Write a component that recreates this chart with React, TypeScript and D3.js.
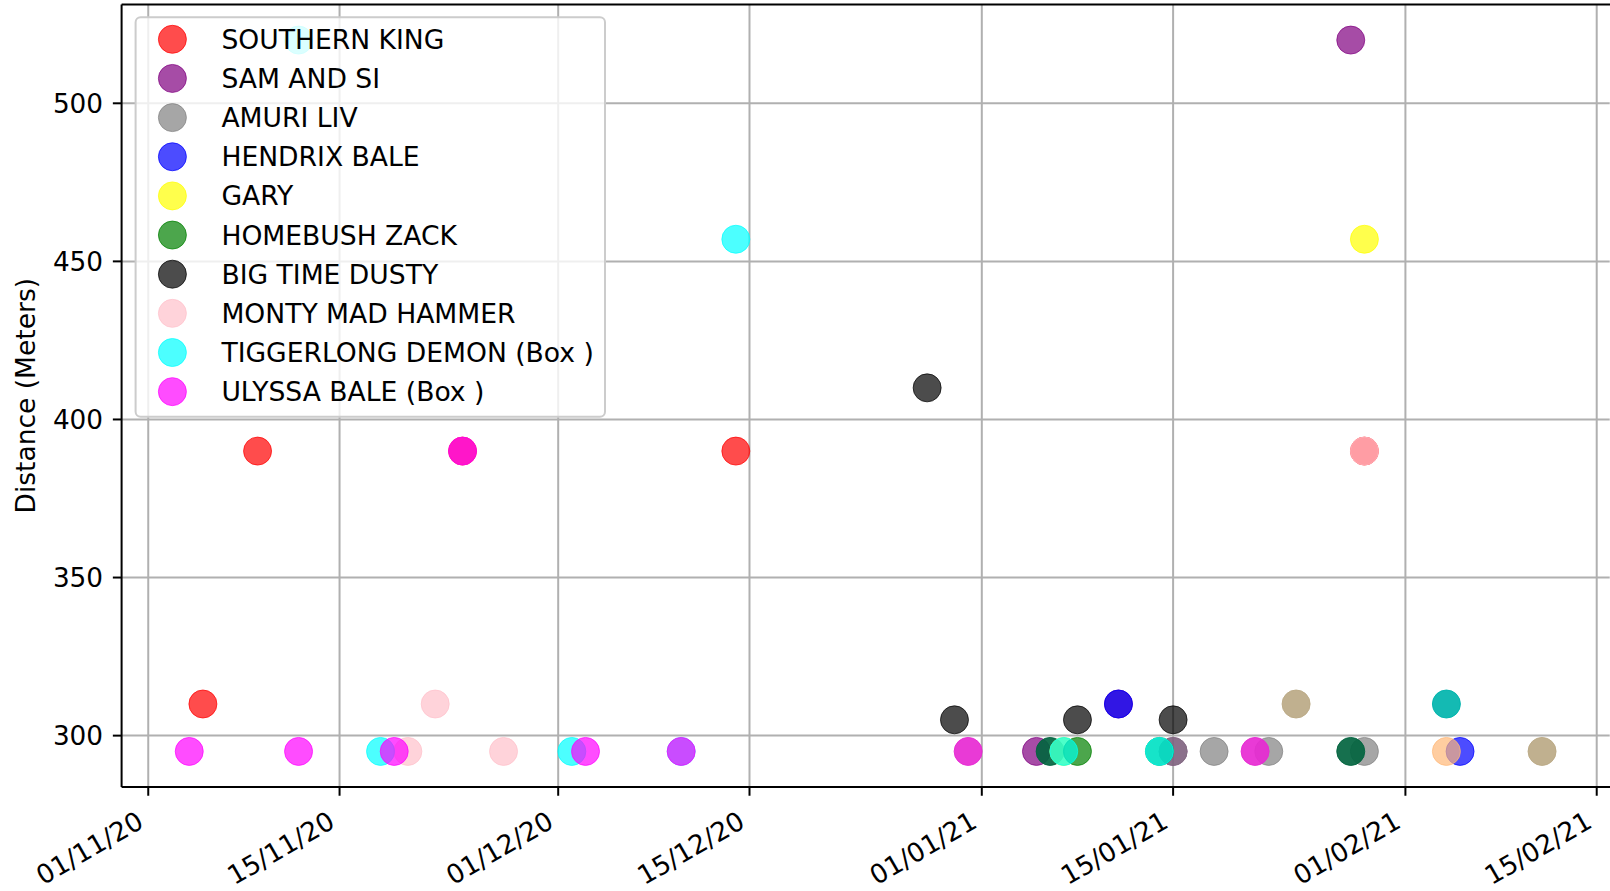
import React from "react";
import * as d3 from "d3";

// ---------- data ----------
const seriesNames = [
  "SOUTHERN KING",
  "SAM AND SI",
  "AMURI LIV",
  "(unlisted A)",
  "(unlisted B)",
  "HENDRIX BALE",
  "(unlisted C)",
  "GARY",
  "HOMEBUSH ZACK",
  "BIG TIME DUSTY",
  "MONTY MAD HAMMER",
  "TIGGERLONG DEMON (Box )",
  "ULYSSA BALE (Box )",
  "(unlisted D)",
  "(unlisted E)",
];
const seriesColors = [
  "#ff0000", "#800080", "#808080", "#02643f", "#e729d2", "#0000ff", "#ffb877",
  "#ffff00", "#008000", "#000000", "#ffc0cb", "#00ffff", "#ff00ff", "#bba986", "#00b4ad",
];
const seriesAlpha = [0.7, 0.7, 0.7, 0.92, 0.92, 0.7, 0.7, 0.7, 0.7, 0.7, 0.7, 0.7, 0.7, 0.92, 0.92];
const seriesInLegend = [true, true, true, false, false, true, false, true, true, true, true, true, true, false, false];
const legendOrder = [0, 1, 2, 5, 7, 8, 9, 10, 11, 12];

// each series: dates and distances (meters)
const seriesDates: string[][] = [
  ["2020-11-05", "2020-11-09", "2020-11-24", "2020-12-14", "2021-01-29"],
  ["2021-01-05", "2021-01-11", "2021-01-15", "2021-01-28"],
  ["2021-01-15", "2021-01-18", "2021-01-22", "2021-01-29"],
  ["2021-01-06", "2021-01-28"],
  ["2020-12-31", "2021-01-21"],
  ["2021-01-11", "2021-02-05"],
  ["2021-02-04"],
  ["2021-01-07", "2021-01-29"],
  ["2021-01-08", "2021-01-14"],
  ["2020-12-28", "2020-12-30", "2021-01-08", "2021-01-15"],
  ["2020-11-20", "2020-11-22", "2020-11-27", "2021-01-29"],
  ["2020-11-12", "2020-11-18", "2020-12-02", "2020-12-10", "2020-12-14", "2021-01-07", "2021-01-14"],
  ["2020-11-04", "2020-11-12", "2020-11-19", "2020-11-24", "2020-12-03", "2020-12-10"],
  ["2021-01-24", "2021-02-11"],
  ["2021-02-04"],
];
const seriesDistances: number[][] = [
  [310, 390, 390, 390, 390],
  [295, 310, 295, 520],
  [295, 295, 295, 295],
  [295, 295],
  [295, 295],
  [310, 295],
  [295],
  [295, 457],
  [295, 295],
  [410, 305, 305, 305],
  [295, 310, 295, 390],
  [520, 295, 295, 295, 457, 295, 295],
  [295, 295, 295, 390, 295, 295],
  [310, 295],
  [310],
];

const xTickDates = ["2020-11-01", "2020-11-15", "2020-12-01", "2020-12-15", "2021-01-01", "2021-01-15", "2021-02-01", "2021-02-15"];
const yTickValues = [300, 350, 400, 450, 500];
const yLabel = "Distance (Meters)";

// ---------- layout ----------
const W = 1610;
const H = 891;
const plotLeft = 121.6;
const plotRight = 1609.7;
const plotTop = 4.5;
const plotBottom = 787;
const FONT = "DejaVu Sans, Verdana, sans-serif";
const FS = 26.3;
const FS_LEG = 26.6;
const FS_LAB = 26.5;
const R = 14;

const parse = d3.utcParse("%Y-%m-%d");
const fmt = d3.utcFormat("%d/%m/%y");

export default function App() {
  const points: { s: number; d: Date; v: number }[] = [];
  seriesDates.forEach((ds, s) => ds.forEach((dt, i) => points.push({ s, d: parse(dt) as Date, v: seriesDistances[s][i] })));

  const [dMin, dMax] = d3.extent(points, (p) => +p.d) as [number, number];
  const dPad = (dMax - dMin) * 0.05;
  const [vMin, vMax] = d3.extent(points, (p) => p.v) as [number, number];
  const vPad = (vMax - vMin) * 0.05;

  const x = d3.scaleUtc().domain([new Date(dMin - dPad), new Date(dMax + dPad)]).range([plotLeft, plotRight]);
  const y = d3.scaleLinear().domain([vMin - vPad, vMax + vPad]).range([plotBottom, plotTop]);

  const xTicks = xTickDates.map((t) => parse(t) as Date);
  const grid = "#b0b0b0";

  const legX = 135.6, legY = 17.3, legW = 469.4, legH = 399.4;
  const rowH = 39.15;

  return (
    <svg width={W} height={H} style={{ position: "absolute", left: 0, top: 0, background: "#fff" }} fontFamily={FONT}>
      <rect x={0} y={0} width={W} height={H} fill="#fff" />
      {/* grid */}
      {xTicks.map((t, i) => (
        <line key={"gx" + i} x1={x(t)} x2={x(t)} y1={plotTop} y2={plotBottom} stroke={grid} strokeWidth={2} />
      ))}
      {yTickValues.map((v, i) => (
        <line key={"gy" + i} x1={plotLeft} x2={plotRight} y1={y(v)} y2={y(v)} stroke={grid} strokeWidth={2} />
      ))}
      {/* points, drawn series by series */}
      {seriesNames.map((_, s) => (
        <g key={"s" + s}>
          {points
            .filter((p) => p.s === s)
            .map((p, i) => (
              <circle
                key={i}
                cx={x(p.d)}
                cy={y(p.v)}
                r={R}
                fill={seriesColors[s]}
                fillOpacity={seriesAlpha[s]}
                stroke={seriesColors[s]}
                strokeOpacity={seriesAlpha[s]}
                strokeWidth={1}
              />
            ))}
        </g>
      ))}
      {/* spines */}
      <line x1={plotLeft} x2={plotLeft} y1={plotTop} y2={plotBottom} stroke="#000" strokeWidth={2} />
      <line x1={plotLeft} x2={W + 5} y1={plotBottom} y2={plotBottom} stroke="#000" strokeWidth={2} />
      <line x1={plotLeft} x2={W + 5} y1={plotTop} y2={plotTop} stroke="#000" strokeWidth={2} />
      {/* y ticks */}
      {yTickValues.map((v, i) => (
        <g key={"yt" + i}>
          <line x1={plotLeft - 8.75} x2={plotLeft} y1={y(v)} y2={y(v)} stroke="#000" strokeWidth={2} />
          <text x={plotLeft - 18.5} y={y(v)} dy="0.36em" textAnchor="end" fontSize={FS} fill="#000">
            {v}
          </text>
        </g>
      ))}
      {/* x ticks */}
      {xTicks.map((t, i) => (
        <g key={"xt" + i}>
          <line x1={x(t)} x2={x(t)} y1={plotBottom} y2={plotBottom + 8.75} stroke="#000" strokeWidth={2} />
          <text transform={`translate(${x(t) - 3},${826.5}) rotate(-30)`} textAnchor="end" fontSize={FS} fill="#000">
            {fmt(t)}
          </text>
        </g>
      ))}
      {/* y label */}
      <text transform={`translate(35,${(plotTop + plotBottom) / 2}) rotate(-90)`} textAnchor="middle" fontSize={FS_LAB} fill="#000">
        {yLabel}
      </text>
      {/* legend */}
      <rect x={legX} y={legY} width={legW} height={legH} rx={5} fill="#fff" fillOpacity={0.8} stroke="#cccccc" strokeWidth={2} />
      {legendOrder.filter((s) => seriesInLegend[s]).map((s, i) => (
        <g key={"lg" + s}>
          <circle
            cx={172.4}
            cy={39.3 + i * rowH}
            r={R}
            fill={seriesColors[s]}
            fillOpacity={seriesAlpha[s]}
            stroke={seriesColors[s]}
            strokeOpacity={seriesAlpha[s]}
            strokeWidth={1}
          />
          <text x={221.4} y={39.3 + i * rowH} dy="0.36em" fontSize={FS_LEG} fill="#000">
            {seriesNames[s]}
          </text>
        </g>
      ))}
    </svg>
  );
}
